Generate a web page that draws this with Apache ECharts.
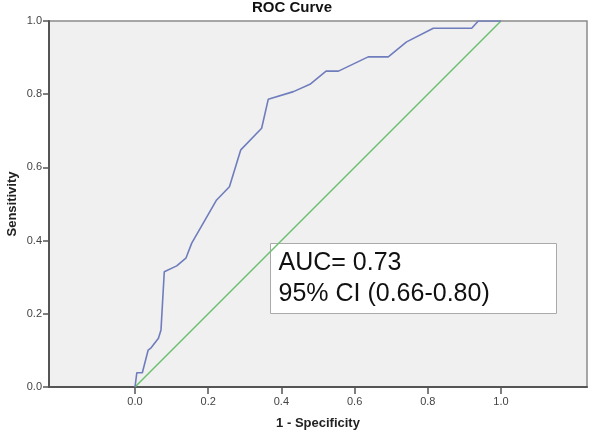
<!DOCTYPE html>
<html>
<head>
<meta charset="utf-8">
<script src="https://cdn.jsdelivr.net/npm/echarts@6/dist/echarts.min.js"></script>
<style>html,body{margin:0;padding:0;background:#fff}#chart{width:600px;height:443px}</style>
</head>
<body>
<div id="chart"></div>
<script>
var rocX = [0, 0.005, 0.020, 0.036, 0.044, 0.064, 0.071, 0.080, 0.114, 0.139, 0.155, 0.223, 0.258, 0.289, 0.346, 0.364, 0.433, 0.478, 0.522, 0.556, 0.637, 0.692, 0.742, 0.815, 0.920, 0.938, 1.0];
var rocY = [0, 0.039, 0.039, 0.101, 0.107, 0.133, 0.156, 0.315, 0.331, 0.352, 0.393, 0.511, 0.547, 0.648, 0.707, 0.786, 0.807, 0.827, 0.863, 0.863, 0.902, 0.902, 0.943, 0.980, 0.980, 1.0, 1.0];
var refX = [0, 1];
var refY = [0, 1];
var tickValues = [0, 0.2, 0.4, 0.6, 0.8, 1.0];
var annotationLines = ['AUC= 0.73', '95% CI (0.66-0.80)'];

var font = 'Arial, "Liberation Sans", sans-serif';
var chart = echarts.init(document.getElementById('chart'), null, {renderer: 'canvas'});
var option = {
  animation: false,
  backgroundColor: '#ffffff',
  title: {
    text: 'ROC Curve',
    left: 252, top: 0, padding: 0,
    textStyle: {fontFamily: font, fontSize: 15, fontWeight: 'bold', color: '#111'}
  },
  grid: {
    left: 49, right: 13, top: 21, bottom: 56,
    show: true, backgroundColor: '#f0f0f0', borderColor: '#8a8a8a', borderWidth: 1.5,
    containLabel: false, outerBoundsMode: 'none'
  },
  xAxis: {
    type: 'value', min: -0.235, max: 1.235,
    name: '1 - Specificity', nameLocation: 'middle', nameGap: 30,
    nameTextStyle: {fontFamily: font, fontSize: 13, fontWeight: 'bold', color: '#222'},
    axisLine: {show: true, onZero: false, lineStyle: {color: '#555', width: 2}},
    axisTick: {show: true, length: 7, customValues: tickValues, lineStyle: {color: '#555', width: 1.5}},
    axisLabel: {customValues: tickValues, margin: 9, fontFamily: font, fontSize: 11, color: '#444',
      formatter: function (v) { return v.toFixed(1); }},
    splitLine: {show: false}
  },
  yAxis: {
    type: 'value', min: 0, max: 1, interval: 0.2,
    name: 'Sensitivity', nameLocation: 'middle', nameGap: 30, nameMoveOverlap: false,
    nameTextStyle: {fontFamily: font, fontSize: 13, fontWeight: 'bold', color: '#222'},
    axisLine: {show: true, onZero: false, lineStyle: {color: '#555', width: 2}},
    axisTick: {show: true, length: 6, lineStyle: {color: '#555', width: 1.5}},
    axisLabel: {margin: 7, fontFamily: font, fontSize: 11, color: '#444',
      formatter: function (v) { return v.toFixed(1); }},
    splitLine: {show: false}
  },
  series: [
    {
      type: 'line', name: 'Reference', symbol: 'none',
      data: refX.map(function (x, i) { return [x, refY[i]]; }),
      lineStyle: {color: '#6cc070', width: 1.5}, z: 2
    },
    {
      type: 'line', name: 'ROC', symbol: 'none',
      data: rocX.map(function (x, i) { return [x, rocY[i]]; }),
      lineStyle: {color: '#6f7dbd', width: 1.6}, z: 3
    }
  ],
  graphic: [
    {
      type: 'group', left: 270, top: 243, z: 100,
      children: [
        {type: 'rect', shape: {x: 0, y: 0, width: 286, height: 70},
         style: {fill: '#ffffff', stroke: '#aaaaaa', lineWidth: 1}},
        {type: 'text', x: 8, y: 4,
         style: {text: annotationLines.join('\n'), fontFamily: font, fontSize: 25, lineHeight: 31,
                 fill: '#111', verticalAlign: 'top'}}
      ]
    }
  ]
};
chart.setOption(option);
</script>
</body>
</html>
